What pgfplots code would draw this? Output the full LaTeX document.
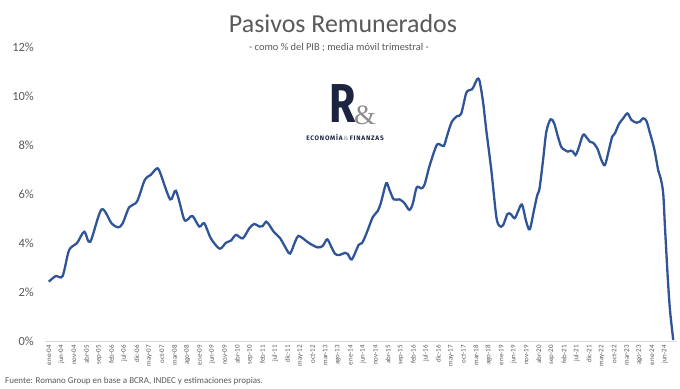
\documentclass[border=0pt]{standalone}
\usepackage{pgfplots}
\pgfplotsset{compat=1.18}
\usepackage{fontspec}
\setmainfont{Carlito}
\newfontfamily\logofont{Fira Sans}
\newfontfamily\logofontsp[LetterSpace=12]{Fira Sans}
\newfontfamily\serifamp{Liberation Serif}
\definecolor{lineblue}{HTML}{2F5597}
\definecolor{txtgray}{HTML}{595959}
\definecolor{navy}{HTML}{1C2442}

\begin{document}
\begin{tikzpicture}[x=1bp,y=1bp]
\path[use as bounding box] (0,0) rectangle (680,388);
\begin{axis}[
 at={(45bp,47bp)}, anchor=south west,
 scale only axis, width=632bp, height=294bp,
 xmin=-1.5, xmax=250, ymin=0, ymax=12,
 separate axis lines,
 axis x line*=bottom, axis y line*=left,
 x axis line style={draw=black!15,-},
 y axis line style={draw=none},
 tick style={draw=none},
 ytick={0,2,...,12},
 yticklabel={\pgfmathprintnumber{\tick}\%},
 yticklabel style={font=\fontsize{12.5}{14}\selectfont, text=txtgray, anchor=east, inner sep=0pt, xshift=-11bp},
 xtick={0,5,...,245},
 xticklabels={ene-04,jun-04,nov-04,abr-05,sep-05,feb-06,jul-06,dic-06,may-07,oct-07,mar-08,ago-08,ene-09,jun-09,nov-09,abr-10,sep-10,feb-11,jul-11,dic-11,may-12,oct-12,mar-13,ago-13,ene-14,jun-14,nov-14,abr-15,sep-15,feb-16,jul-16,dic-16,may-17,oct-17,mar-18,ago-18,ene-19,jun-19,nov-19,abr-20,sep-20,feb-21,jul-21,dic-21,may-22,oct-22,mar-23,ago-23,ene-24,jun-24},
 xticklabel style={font=\fontsize{7}{8}\selectfont, text=txtgray, yshift=-4bp, rotate=90, anchor=east, inner sep=0pt},
 /pgf/number format/assume math mode=true,
 clip=false,
]
\addplot[lineblue, line width=2.3bp, smooth, tension=0.5] coordinates {
(0,2.42) (2.8,2.65) (5.5,2.65) (8.1,3.71) (11.2,3.99) (14.1,4.46) (16.5,4.05)
(21,5.37) (25,4.80) (27.6,4.64) (29.4,4.80) (32,5.46) (35.1,5.69) (38.2,6.57)
(40.6,6.78) (42.6,7.01) (44,6.95) (48.3,5.78) (50.6,6.13) (53.7,5.01) (55,4.94)
(57.2,5.10) (59.9,4.67) (61.9,4.80) (64.5,4.19) (68,3.77) (70.5,4.01) (72.5,4.10)
(74.5,4.33) (77.2,4.19) (79.8,4.60) (81.8,4.78) (83.8,4.67) (85.1,4.69) (86.5,4.87)
(87.8,4.73) (89.5,4.46) (92.1,4.19) (94,3.85) (96,3.57) (98,4.05) (99.3,4.29)
(101.1,4.19) (103.7,3.99) (107,3.82) (109,3.88) (110.8,4.15) (112.4,3.85) (114,3.55)
(115.7,3.51) (117.9,3.60) (119,3.55) (120.6,3.33) (123.3,3.92) (124.6,3.99) (125.9,4.26)
(127.2,4.60) (129,5.07) (131,5.32) (132.3,5.69) (134.3,6.44) (135.6,6.16) (137.3,5.78)
(139.6,5.78) (141.6,5.62) (143.5,5.35) (144.9,5.62) (146.4,6.27) (148.2,6.23) (149.5,6.37)
(151.5,7.14) (154.2,7.96) (155.5,8.03) (157.2,7.96) (158.6,8.41) (160.4,8.95) (162.5,9.18)
(164.1,9.27) (166.1,10.11) (167.5,10.24) (168.4,10.27) (169.4,10.45) (170.5,10.69) (171.4,10.62)
(172.8,9.77) (174.1,8.61) (176.1,6.98) (178.1,5.07) (179.4,4.69) (180.8,4.73) (182.5,5.18)
(183.8,5.18) (185.4,5.01) (186.7,5.28) (188.3,5.57) (190,4.87) (191.4,4.56) (193.1,5.35)
(194.4,5.96) (195.3,6.23) (196.7,7.39) (198,8.54) (199.7,9.05) (201.1,8.89) (202.7,8.31)
(204,7.91) (205.3,7.80) (206.6,7.73) (207.7,7.77) (208.6,7.73) (209.6,7.59) (210.6,7.80)
(212.6,8.41) (214,8.31) (215.3,8.14) (216.6,8.09) (218.3,7.86) (219.9,7.39) (221.3,7.18)
(222.9,7.80) (224.2,8.34) (225.3,8.48) (226.9,8.86) (228.6,9.09) (230.3,9.29) (231.9,9.02)
(233.9,8.91) (235.2,8.95) (236.5,9.09) (237.8,8.99) (239.1,8.54) (240.9,7.86) (242.5,6.98)
(243.5,6.64) (244.5,6.03) (245.2,4.67) (246.3,2.62) (247.2,1.27) (248.5,0.04)
};
\end{axis}
\node[anchor=base, text=txtgray, font=\fontsize{26}{30}\selectfont] at (343,356) {Pasivos Remunerados};
\node[anchor=base, text=txtgray, font=\fontsize{10.5}{12}\selectfont] at (339,338) {- como \% del PIB ; media móvil trimestral -};
\node[anchor=base west, text=txtgray, font=\fontsize{9}{10}\selectfont, inner sep=0pt] at (5,5) {Fuente: Romano Group en base a BCRA, INDEC y estimaciones propias.};
\node[anchor=base, inner sep=0pt, text=navy, font=\logofont\bfseries\fontsize{55}{60}\selectfont, xscale=0.78] at (343,266) {R};
\node[anchor=base, inner sep=0pt, text=black!45, font=\serifamp\fontsize{28}{30}\selectfont] at (365,264) {\&};
\node[anchor=base, inner sep=0pt, text=navy, font=\logofontsp\bfseries\fontsize{6.5}{7}\selectfont] at (345,247.5) {ECONOMÍA\,{\serifamp\mdseries\color{black!45}\&}\,FINANZAS};
\end{tikzpicture}
\end{document}
